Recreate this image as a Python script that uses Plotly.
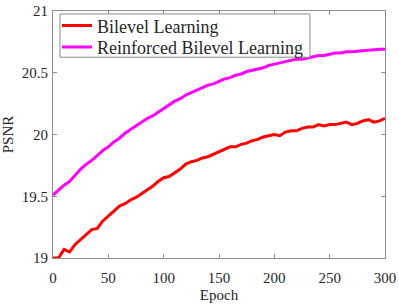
import plotly.graph_objects as go

epochs = list(range(0, 301, 5))

bilevel = [19.00, 19.00, 19.07, 19.05, 19.11, 19.15, 19.19, 19.23, 19.24, 19.30,
           19.34, 19.38, 19.42, 19.44, 19.47, 19.49, 19.52, 19.55, 19.58, 19.62,
           19.65, 19.66, 19.69, 19.72, 19.76, 19.78, 19.79, 19.81, 19.82, 19.84,
           19.86, 19.88, 19.90, 19.90, 19.92, 19.93, 19.95, 19.96, 19.98, 19.99,
           20.00, 19.99, 20.02, 20.03, 20.03, 20.05, 20.06, 20.06, 20.08, 20.07,
           20.08, 20.08, 20.09, 20.10, 20.08, 20.09, 20.11, 20.12, 20.10, 20.11,
           20.13]

reinforced = [19.51, 19.55, 19.59, 19.62, 19.67, 19.72, 19.76, 19.79, 19.83, 19.87,
              19.90, 19.94, 19.97, 20.01, 20.04, 20.07, 20.10, 20.13, 20.15, 20.18,
              20.21, 20.24, 20.27, 20.29, 20.32, 20.34, 20.36, 20.38, 20.40, 20.41,
              20.43, 20.45, 20.46, 20.48, 20.49, 20.51, 20.52, 20.53, 20.54, 20.56,
              20.57, 20.58, 20.59, 20.60, 20.61, 20.61, 20.62, 20.63, 20.64, 20.64,
              20.65, 20.66, 20.66, 20.67, 20.67, 20.675, 20.68, 20.68, 20.685, 20.69,
              20.69]

x_ticks = [0, 50, 100, 150, 200, 250, 300]
y_ticks = [19, 19.5, 20, 20.5, 21]
y_labels = ["19", "19.5", "20", "20.5", "21"]

font_family = "Times New Roman"
text_color = "#262626"
axis_color = "#8c8c8c"

fig = go.Figure()
fig.add_trace(go.Scatter(x=epochs, y=bilevel, mode="lines", name="Bilevel Learning",
                         line=dict(color="#ff0000", width=3), legend="legend"))
fig.add_trace(go.Scatter(x=epochs, y=reinforced, mode="lines", name="Reinforced Bilevel Learning",
                         line=dict(color="#ff00ff", width=3), legend="legend2"))

axis_common = dict(showline=True, linecolor=axis_color, linewidth=1, mirror="allticks",
                   ticks="inside", ticklen=4, tickcolor=axis_color, showgrid=False,
                   zeroline=False, ticklabeloverflow="allow", automargin=False,
                   tickfont=dict(family=font_family, size=15, color=text_color))

legend_common = dict(xanchor="left", yanchor="middle", bgcolor="rgba(0,0,0,0)",
                     borderwidth=0, itemwidth=30,
                     font=dict(family=font_family, size=18, color=text_color))

fig.update_layout(
    width=399, height=305,
    margin=dict(l=53, r=14, t=7, b=47),
    paper_bgcolor="white", plot_bgcolor="white",
    font=dict(family=font_family, color=text_color),
    xaxis=dict(range=[0, 300], tickvals=x_ticks, ticklabelstandoff=6,
               title=dict(text="Epoch", font=dict(family=font_family, size=15, color=text_color), standoff=4),
               **axis_common),
    yaxis=dict(range=[19, 21], tickvals=y_ticks, ticktext=y_labels, ticklabelstandoff=1,
               title=dict(text="PSNR", font=dict(family=font_family, size=15, color=text_color), standoff=6),
               **axis_common),
    legend=dict(x=0.012, y=0.94, **legend_common),
    legend2=dict(x=0.012, y=0.853, **legend_common),
    shapes=[dict(type="rect", xref="paper", yref="paper", x0=0.021, x1=0.774, y0=0.813, y1=0.988,
                 line=dict(color=axis_color, width=1), fillcolor="white", layer="above")],
    showlegend=True,
)

fig.write_html("out.html", config={"displayModeBar": False},
               post_script="document.body.style.margin='0';")
